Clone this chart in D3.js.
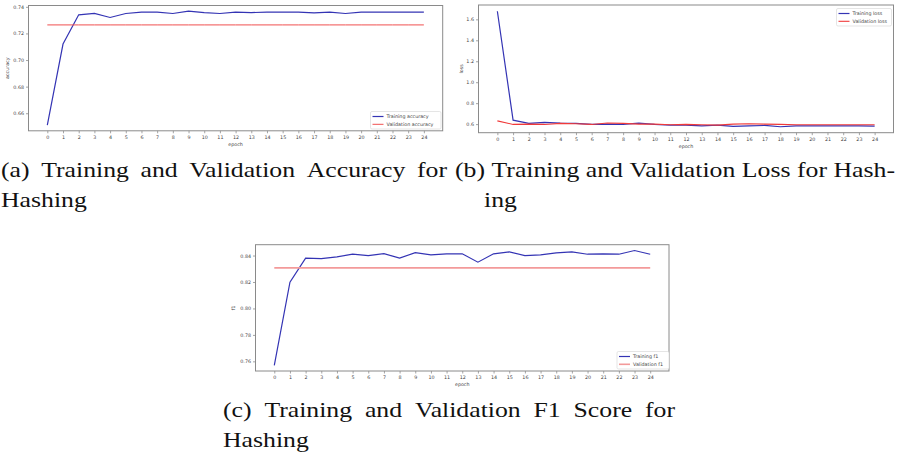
<!DOCTYPE html>
<html>
<head>
<meta charset="utf-8">
<script src="https://cdn.jsdelivr.net/npm/d3@7"></script>
<style>
  html, body { margin: 0; padding: 0; background: #fff; }
  svg { display: block; }
  .tick text { font-family: "DejaVu Sans", sans-serif; fill: #444; }
</style>
</head>
<body>
<div id="chart"></div>
<script>
// Epochs shared by all three plots
const epochs = [0, 1, 2, 3, 4, 5, 6, 7, 8, 9, 10, 11, 12, 13, 14, 15, 16, 17, 18, 19, 20, 21, 22, 23, 24];

// (a) accuracy
const trainAcc = [0.651, 0.712, 0.734, 0.735, 0.732, 0.735, 0.736, 0.736, 0.735, 0.7368, 0.7357, 0.735, 0.736,
                  0.7357, 0.736, 0.736, 0.736, 0.7355, 0.736, 0.735, 0.736, 0.736, 0.736, 0.736, 0.736];
const valAcc = [0.7264, 0.7264, 0.7264, 0.7264, 0.7264, 0.7264, 0.7264, 0.7264, 0.7264, 0.7264, 0.7264, 0.7264, 0.7264,
                0.7264, 0.7264, 0.7264, 0.7264, 0.7264, 0.7264, 0.7264, 0.7264, 0.7264, 0.7264, 0.7264, 0.7264];
const accTicks = [0.66, 0.68, 0.70, 0.72, 0.74];

// (b) loss
const trainLoss = [1.677, 0.638, 0.607, 0.617, 0.610, 0.607, 0.597, 0.600, 0.597, 0.610, 0.597, 0.590, 0.590,
                   0.584, 0.590, 0.578, 0.584, 0.587, 0.575, 0.584, 0.584, 0.584, 0.584, 0.584, 0.580];
const valLoss = [0.631, 0.597, 0.600, 0.597, 0.607, 0.603, 0.597, 0.610, 0.607, 0.600, 0.600, 0.594, 0.597,
                 0.594, 0.590, 0.600, 0.603, 0.600, 0.597, 0.594, 0.594, 0.594, 0.594, 0.594, 0.594];
const lossTicks = [0.6, 0.8, 1.0, 1.2, 1.4, 1.6];

// (c) f1
const trainF1 = [0.757, 0.8198, 0.838, 0.8377, 0.839, 0.841, 0.840, 0.8415, 0.838, 0.8422, 0.8405, 0.8413, 0.8413,
                 0.835, 0.8413, 0.8428, 0.840, 0.8405, 0.842, 0.8428, 0.841, 0.8413, 0.841, 0.8438, 0.841];
const valF1 = [0.8307, 0.8307, 0.8307, 0.8307, 0.8307, 0.8307, 0.8307, 0.8307, 0.8307, 0.8307, 0.8307, 0.8307, 0.8307,
               0.8307, 0.8307, 0.8307, 0.8307, 0.8307, 0.8307, 0.8307, 0.8307, 0.8307, 0.8307, 0.8307, 0.8307];
const f1Ticks = [0.76, 0.78, 0.80, 0.82, 0.84];

const width = 897;
const height = 455;

const svg = d3.select("#chart")
    .append("svg")
    .attr("width", width)
    .attr("height", height);

const tickFont = 4.8;

// one matplotlib-like panel
function drawPanel(p) {
    const x = d3.scaleLinear().domain([-1.2, 25.2]).range([p.left, p.right]);
    const y = d3.scaleLinear().domain(p.yDomain).range([p.bottom, p.top]);
    const g = svg.append("g");

    // axes
    const xAxis = d3.axisBottom(x).tickValues(epochs).tickFormat(d3.format("d"))
        .tickSize(2.5).tickPadding(2);
    const gx = g.append("g").attr("transform", `translate(0,${p.bottom})`).call(xAxis);
    const yAxis = d3.axisLeft(y).tickValues(p.ticks).tickFormat(d3.format(p.fmt))
        .tickSize(2.5).tickPadding(2);
    const gy = g.append("g").attr("transform", `translate(${p.left},0)`).call(yAxis);
    [gx, gy].forEach(a => {
        a.select(".domain").remove();
        a.selectAll(".tick line").attr("stroke", "#666").attr("stroke-width", 0.6);
        a.selectAll(".tick text").style("font-size", tickFont + "px");
    });

    // series
    const line = d3.line().x((d, i) => x(epochs[i])).y(d => y(d));
    p.series.forEach(s => {
        g.append("path")
            .datum(s.values)
            .attr("fill", "none")
            .attr("stroke", s.color)
            .attr("stroke-width", s.width)
            .attr("d", line);
    });

    // frame
    g.append("rect")
        .attr("x", p.left).attr("y", p.top)
        .attr("width", p.right - p.left).attr("height", p.bottom - p.top)
        .attr("fill", "none").attr("stroke", "#8a8a8a").attr("stroke-width", 1);

    // axis labels
    g.append("text")
        .attr("x", (p.left + p.right) / 2)
        .attr("y", p.bottom + 15)
        .attr("text-anchor", "middle")
        .style("font-family", "DejaVu Sans, sans-serif")
        .style("font-size", tickFont + "px")
        .style("fill", "#444")
        .text("epoch");
    g.append("text")
        .attr("transform", `translate(${p.yLabelX},${(p.top + p.bottom) / 2}) rotate(-90)`)
        .attr("text-anchor", "middle")
        .style("font-family", "DejaVu Sans, sans-serif")
        .style("font-size", tickFont + "px")
        .style("fill", "#444")
        .text(p.yLabel);

    // legend
    const lg = g.append("g").attr("transform", `translate(${p.legend.x},${p.legend.y})`);
    lg.append("rect")
        .attr("width", p.legend.w).attr("height", 17.5)
        .attr("rx", 1.5)
        .attr("fill", "#fff").attr("stroke", "#d4d4d4").attr("stroke-width", 0.6);
    p.series.forEach((s, i) => {
        const yy = 5 + i * 7.8;
        lg.append("line")
            .attr("x1", 2).attr("x2", 13)
            .attr("y1", yy).attr("y2", yy)
            .attr("stroke", s.color).attr("stroke-width", s.width);
        lg.append("text")
            .attr("x", 16).attr("y", yy + 1.7)
            .style("font-family", "DejaVu Sans, sans-serif")
            .style("font-size", tickFont + "px")
            .style("fill", "#444")
            .text(s.label);
    });
}

drawPanel({
    left: 28.5, right: 442.7, top: 5.5, bottom: 130.8,
    yDomain: [0.6468, 0.7410], ticks: accTicks, fmt: ".2f",
    yLabel: "accuracy", yLabelX: 9,
    series: [
        {values: trainAcc, color: "#3434b4", width: 1.2, label: "Training accuracy"},
        {values: valAcc, color: "#f05050", width: 1, label: "Validation accuracy"}
    ],
    legend: {x: 370.5, y: 111.5, w: 70.5}
});

drawPanel({
    left: 478.5, right: 893.5, top: 5, bottom: 132.7,
    yDomain: [0.518, 1.737], ticks: lossTicks, fmt: ".1f",
    yLabel: "loss", yLabelX: 463,
    series: [
        {values: trainLoss, color: "#3434b4", width: 1.2, label: "Training loss"},
        {values: valLoss, color: "#f03a3a", width: 1.1, label: "Validation loss"}
    ],
    legend: {x: 836.5, y: 8.5, w: 55}
});

drawPanel({
    left: 255.5, right: 669, top: 244.7, bottom: 371,
    yDomain: [0.7527, 0.8482], ticks: f1Ticks, fmt: ".2f",
    yLabel: "f1", yLabelX: 235,
    series: [
        {values: trainF1, color: "#3434b4", width: 1.2, label: "Training f1"},
        {values: valF1, color: "#f39a9a", width: 1.6, label: "Validation f1"}
    ],
    legend: {x: 617, y: 351.5, w: 52}
});

// captions, justified lines like LaTeX subcaptions
// Times-like glyphs are narrower than Computer Modern, so each word is widened a little
const capFont = "Liberation Serif, Times New Roman, serif";
const capSize = 22;
const capStretch = 1.17;

function captionLine(words, x0, x1, y, justify) {
    const nodes = words.map(w => svg.append("text")
        .style("font-family", capFont)
        .style("font-size", capSize + "px")
        .style("fill", "#111")
        .text(w));
    const widths = nodes.map(n => n.node().getComputedTextLength() * capStretch);
    const total = d3.sum(widths);
    const gap = justify && words.length > 1 ? (x1 - x0 - total) / (words.length - 1) : capSize * 0.33;
    let cx = x0;
    nodes.forEach((n, i) => {
        n.attr("transform", `translate(${cx},${y}) scale(${capStretch},1)`);
        cx += widths[i] + gap;
    });
}

captionLine(["(a)", "Training", "and", "Validation", "Accuracy", "for"], 1, 447, 177, true);
captionLine(["Hashing"], 1, 447, 207, false);
captionLine(["(b)", "Training", "and", "Validation", "Loss", "for", "Hash-"], 455, 895, 177, true);
captionLine(["ing"], 484, 895, 207, false);
captionLine(["(c)", "Training", "and", "Validation", "F1", "Score", "for"], 223, 675, 417, true);
captionLine(["Hashing"], 223, 675, 447, false);
</script>
</body>
</html>
